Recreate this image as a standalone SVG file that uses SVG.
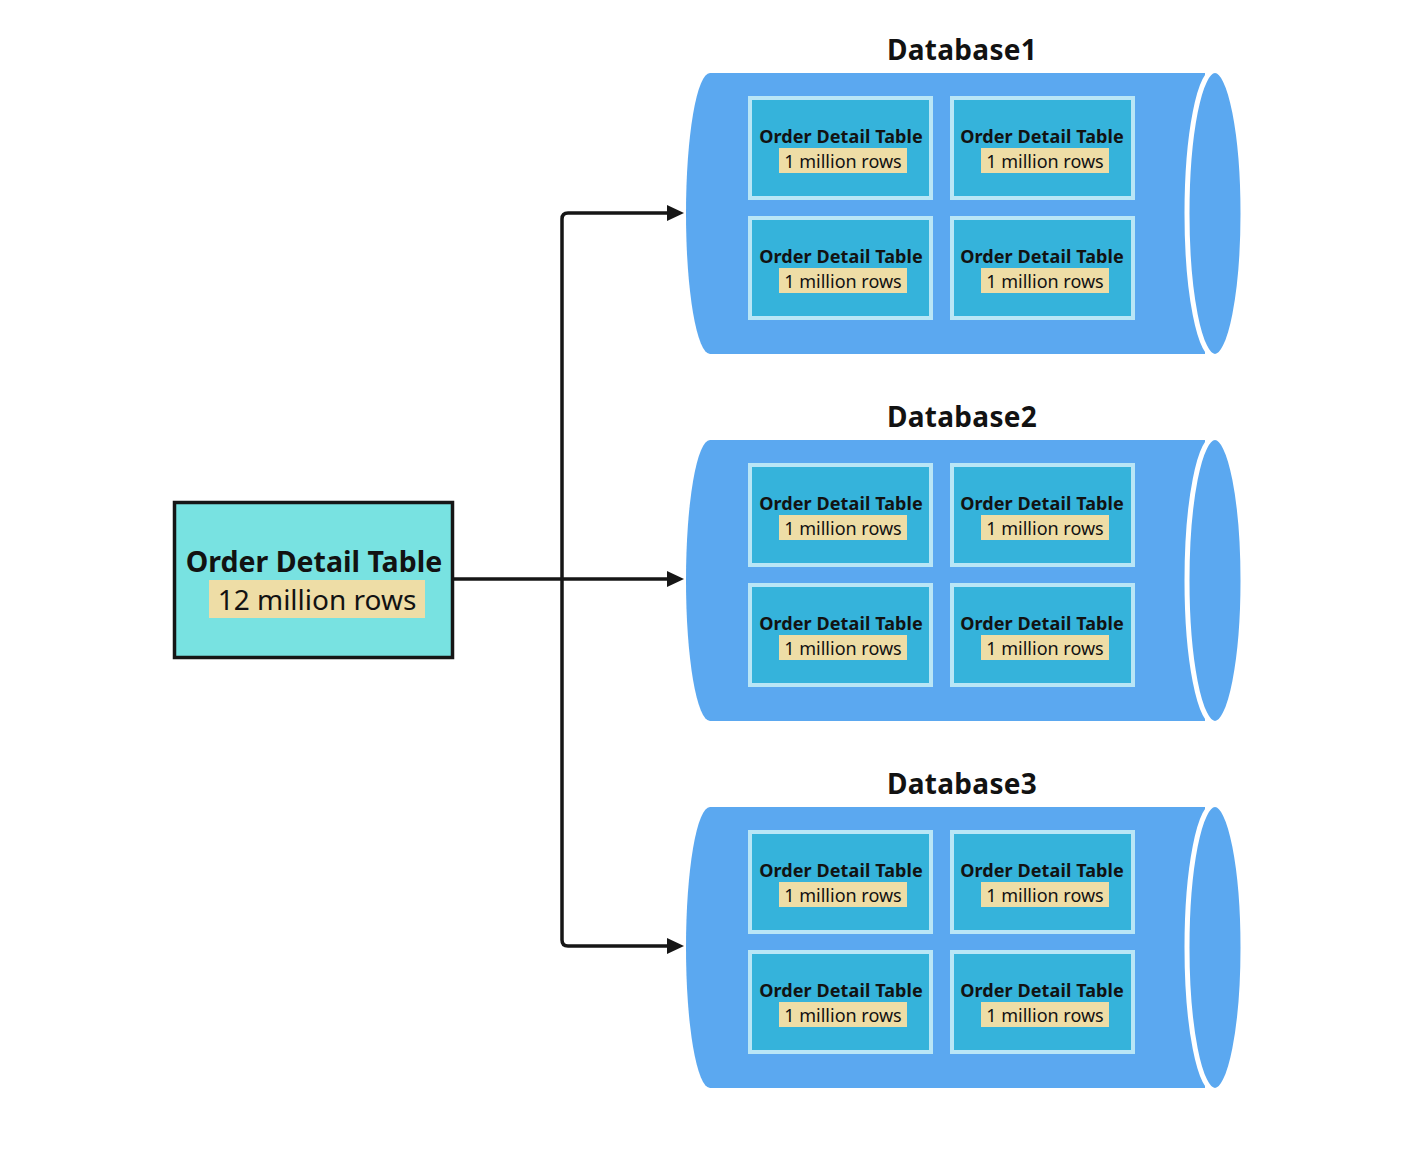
<svg xmlns="http://www.w3.org/2000/svg" xmlns:xlink="http://www.w3.org/1999/xlink" width="1402" height="1162" viewBox="0 0 1402 1162">
<style>
.cylbody{fill:#5BA8F0;}
.cylend{fill:#5BA8F0;stroke:#FFFFFF;stroke-width:5;}
.tbl{fill:#35B3DB;stroke:#B9E6F6;stroke-width:4;}
.hl{fill:#EEDDA6;}
.t{font-family:"Noto Sans","Open Sans","DejaVu Sans",sans-serif;fill:#121212;text-anchor:middle;}
.tb{font-weight:bold;font-size:18px;letter-spacing:0.1px;}
.tr{font-size:18px;}
.dbt{font-weight:bold;font-size:28px;letter-spacing:0.3px;}
.big{font-size:28px;}
.bigb{font-weight:bold;font-size:28.5px;}
.conn{fill:none;stroke:#161616;stroke-width:3.5;}
.src{fill:#78E2E1;stroke:#161616;stroke-width:3.5;}
</style>
<defs>
<marker id="arr" markerUnits="userSpaceOnUse" viewBox="0 -8 17 16" refX="0" refY="0" markerWidth="17" markerHeight="16" orient="auto">
<path d="M0,-8 L17,0 L0,8 Z" fill="#161616"/>
</marker>
<g id="cyl">
<path class="cylbody" d="M710,0 H1205 V281 H710 A24,140.5 0 0 1 710,0 Z"/>
<ellipse class="cylend" cx="1215" cy="140.5" rx="28" ry="143"/>
</g>
<g id="tblA">
<rect class="tbl" x="750" y="0" width="181" height="100"/>
<rect class="hl" x="779" y="50" width="128" height="25"/>
<text class="t tb" x="841" y="44.5">Order Detail Table</text>
<text class="t tr" x="843" y="70">1 million rows</text>
</g>
<g id="tblB">
<rect class="tbl" x="952" y="0" width="181" height="100"/>
<rect class="hl" x="981" y="50" width="128" height="25"/>
<text class="t tb" x="1042" y="44.5">Order Detail Table</text>
<text class="t tr" x="1045" y="70">1 million rows</text>
</g>
</defs>

<g id="connectors">
<path class="conn" d="M454,579 H667" marker-end="url(#arr)"/>
<path class="conn" d="M562,579 V219 Q562,213 568,213 H667" marker-end="url(#arr)"/>
<path class="conn" d="M562,579 V940 Q562,946 568,946 H667" marker-end="url(#arr)"/>
</g>

<g id="source">
<rect class="src" x="174.5" y="502.5" width="278" height="155"/>
<rect class="hl" x="209" y="580" width="216" height="38"/>
<text class="t bigb" x="314" y="572">Order Detail Table</text>
<text class="t big" x="317" y="609.5">12 million rows</text>
</g>

<g id="database1">
<text class="t dbt" x="962" y="60">Database1</text>
<use xlink:href="#cyl" href="#cyl" y="73"/>
<g id="db1-t1"><use href="#tblA" xlink:href="#tblA" y="98"/></g>
<g id="db1-t2"><use href="#tblB" xlink:href="#tblB" y="98"/></g>
<g id="db1-t3"><use href="#tblA" xlink:href="#tblA" y="218"/></g>
<g id="db1-t4"><use href="#tblB" xlink:href="#tblB" y="218"/></g>
</g>

<g id="database2">
<text class="t dbt" x="962" y="427">Database2</text>
<use xlink:href="#cyl" href="#cyl" y="440"/>
<g id="db2-t1"><use href="#tblA" xlink:href="#tblA" y="465"/></g>
<g id="db2-t2"><use href="#tblB" xlink:href="#tblB" y="465"/></g>
<g id="db2-t3"><use href="#tblA" xlink:href="#tblA" y="585"/></g>
<g id="db2-t4"><use href="#tblB" xlink:href="#tblB" y="585"/></g>
</g>

<g id="database3">
<text class="t dbt" x="962" y="794">Database3</text>
<use xlink:href="#cyl" href="#cyl" y="807"/>
<g id="db3-t1"><use href="#tblA" xlink:href="#tblA" y="832"/></g>
<g id="db3-t2"><use href="#tblB" xlink:href="#tblB" y="832"/></g>
<g id="db3-t3"><use href="#tblA" xlink:href="#tblA" y="952"/></g>
<g id="db3-t4"><use href="#tblB" xlink:href="#tblB" y="952"/></g>
</g>
</svg>
